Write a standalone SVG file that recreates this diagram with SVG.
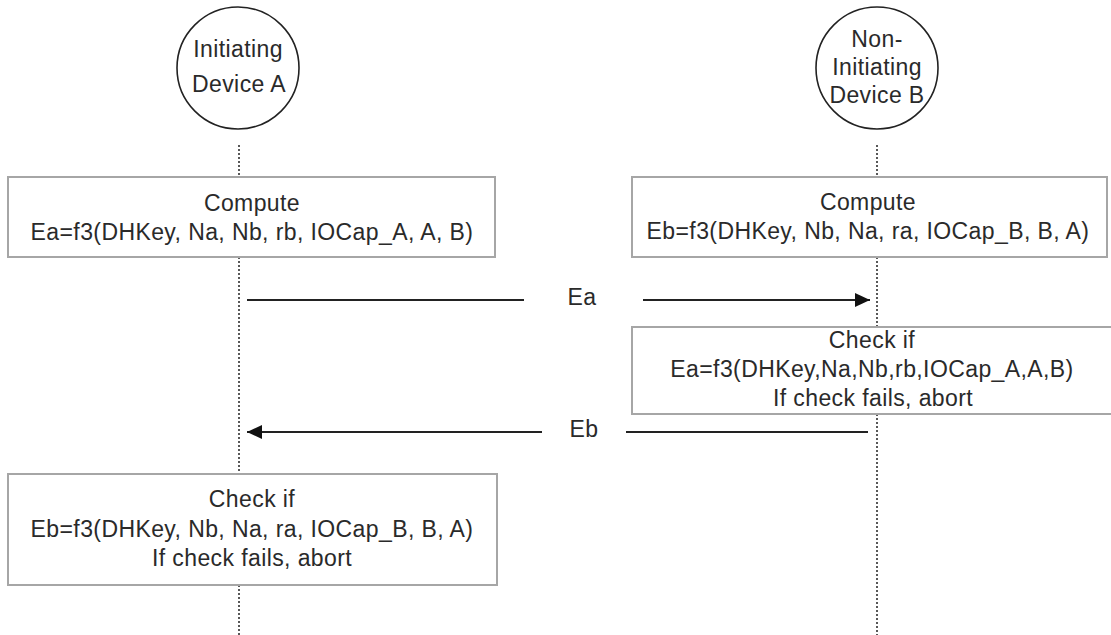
<svg xmlns="http://www.w3.org/2000/svg" width="1111" height="635" viewBox="0 0 1111 635">
<style>
text{font-family:"Liberation Sans",Arial,sans-serif;font-size:23px;fill:#2a2a2a;text-anchor:middle;letter-spacing:0.4px}
.box{fill:#fff;stroke:#a6a6a6;stroke-width:2}
.actor{fill:#fff;stroke:#222;stroke-width:1.6}
.life{stroke:#222;stroke-width:1.5;stroke-dasharray:2 2;fill:none}
.msg{stroke:#222;stroke-width:2;fill:none}
</style>
<defs>
<marker id="ah" markerWidth="15" markerHeight="14" refX="15" refY="7" orient="auto" markerUnits="userSpaceOnUse">
<path d="M0,0 L15,7 L0,14 Z" fill="#111"/>
</marker>
</defs>
<g id="lifelines">
<path class="life" d="M239,145 V177 M239,257 V474 M239,585 V635"/>
<path class="life" d="M877,145 V177 M877,257 V327 M877,414 V635"/>
</g>
<g id="deviceA">
<circle class="actor" cx="238" cy="68" r="61"/>
<text x="238" y="57">Initiating</text>
<text x="239" y="92">Device A</text>
</g>
<g id="deviceB">
<circle class="actor" cx="877" cy="68" r="61"/>
<text x="877" y="47">Non-</text>
<text x="877" y="75">Initiating</text>
<text x="877" y="103">Device B</text>
</g>
<g id="computeA">
<rect class="box" x="8" y="177" width="487" height="80"/>
<text x="252" y="211">Compute</text>
<text x="252" y="240">Ea=f3(DHKey, Na, Nb, rb, IOCap_A, A, B)</text>
</g>
<g id="computeB">
<rect class="box" x="632" y="177" width="475" height="80"/>
<text x="868" y="210">Compute</text>
<text x="868" y="239">Eb=f3(DHKey, Nb, Na, ra, IOCap_B, B, A)</text>
</g>
<g id="checkB">
<rect class="box" x="632" y="327" width="482" height="87"/>
<text x="872" y="348">Check if</text>
<text x="872" y="377">Ea=f3(DHKey,Na,Nb,rb,IOCap_A,A,B)</text>
<text x="873" y="406">If check fails, abort</text>
</g>
<g id="checkA">
<rect class="box" x="8" y="474" width="489" height="111"/>
<text x="252" y="507">Check if</text>
<text x="252" y="537">Eb=f3(DHKey, Nb, Na, ra, IOCap_B, B, A)</text>
<text x="252" y="566">If check fails, abort</text>
</g>
<g id="connectors">
<g id="msgEa">
<path class="msg" d="M247,300 H524"/>
<path class="msg" d="M643,300 H870" marker-end="url(#ah)"/>
<text x="582" y="305">Ea</text>
</g>
<g id="msgEb">
<path class="msg" d="M868,432 H626"/>
<path class="msg" d="M542,432 H247" marker-end="url(#ah)"/>
<text x="584" y="437">Eb</text>
</g>
</g>
</svg>
